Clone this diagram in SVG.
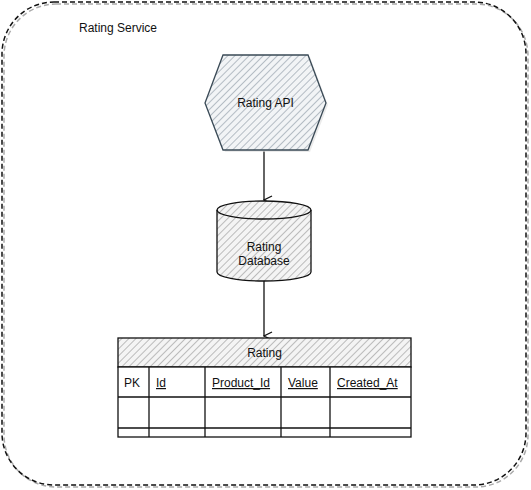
<svg xmlns="http://www.w3.org/2000/svg" width="531" height="490" viewBox="0 0 531 490">
<style>
text{font-family:"Liberation Sans",Arial,sans-serif;font-size:12px;fill:#111}
.u{text-decoration:underline}
.ln{stroke:#111;stroke-width:1.3;fill:none}
</style>
<defs>
<pattern id="hatch" width="5" height="5" patternUnits="userSpaceOnUse" patternTransform="rotate(45)">
<rect width="5" height="5" fill="#f2f4f6"/>
<line x1="0" y1="0" x2="0" y2="5" stroke="#b4bcc4" stroke-width="2"/>
</pattern>
<pattern id="hatch2" width="5" height="5" patternUnits="userSpaceOnUse" patternTransform="rotate(45)">
<rect width="5" height="5" fill="#f4f4f4"/>
<line x1="0" y1="0" x2="0" y2="5" stroke="#bbbbbb" stroke-width="2"/>
</pattern>
<marker id="arr" markerWidth="10" markerHeight="10" refX="5" refY="9" orient="auto-start-reverse" markerUnits="userSpaceOnUse" viewBox="0 0 10 10">
<path d="M1,1 L5,9 L9,1" fill="none" stroke="#111" stroke-width="1.3"/>
</marker>
</defs>
<g id="service">
<rect x="4" y="4" width="524" height="483" rx="52" fill="none" stroke="#aaa" stroke-width="1.5" stroke-dasharray="5 3"/>
<rect x="2" y="2" width="524" height="483" rx="52" fill="none" stroke="#111" stroke-width="1.5" stroke-dasharray="5 3"/>
<text x="79" y="32">Rating Service</text>
</g>
<g id="connectors">
<line class="ln" x1="264" y1="151" x2="264" y2="200" marker-end="url(#arr)"/>
<line class="ln" x1="264" y1="280" x2="264" y2="336" marker-end="url(#arr)"/>
</g>
<g id="api">
<polygon points="225,57 310,57 328,105 310,152 225,152 207,105" fill="#ddd" opacity="0.6"/>
<polygon points="223,55 308,55 326,103 308,150 223,150 205,103" fill="url(#hatch)" stroke="#3a4a56" stroke-width="1.3"/>
<text x="265.5" y="107" text-anchor="middle">Rating API</text>
</g>
<g id="db">
<path d="M217,210 A47,9 0 0 1 311,210 L311,272 A47,9 0 0 1 217,272 Z" fill="url(#hatch2)" stroke="#111" stroke-width="1.3"/>
<path d="M217,210 A47,9 0 0 0 311,210" fill="none" stroke="#111" stroke-width="1.3"/>
<text x="264" y="251" text-anchor="middle">Rating</text>
<text x="264" y="265" text-anchor="middle">Database</text>
</g>
<g id="table">
<rect x="118" y="338" width="293" height="29" fill="url(#hatch2)" stroke="#111" stroke-width="1.3"/>
<rect x="118" y="367" width="293" height="70" fill="#fff" stroke="#111" stroke-width="1.3"/>
<line class="ln" x1="118" y1="397" x2="411" y2="397"/>
<line class="ln" x1="118" y1="428" x2="411" y2="428"/>
<line class="ln" x1="149" y1="367" x2="149" y2="437"/>
<line class="ln" x1="205" y1="367" x2="205" y2="437"/>
<line class="ln" x1="281" y1="367" x2="281" y2="437"/>
<line class="ln" x1="330" y1="367" x2="330" y2="437"/>
<text x="264.5" y="357" text-anchor="middle">Rating</text>
<text x="124" y="387">PK</text>
<text x="156" y="387" class="u">Id</text>
<text x="212" y="387" class="u">Product_Id</text>
<text x="288" y="387" class="u">Value</text>
<text x="337" y="387" class="u">Created_At</text>
</g>
</svg>
